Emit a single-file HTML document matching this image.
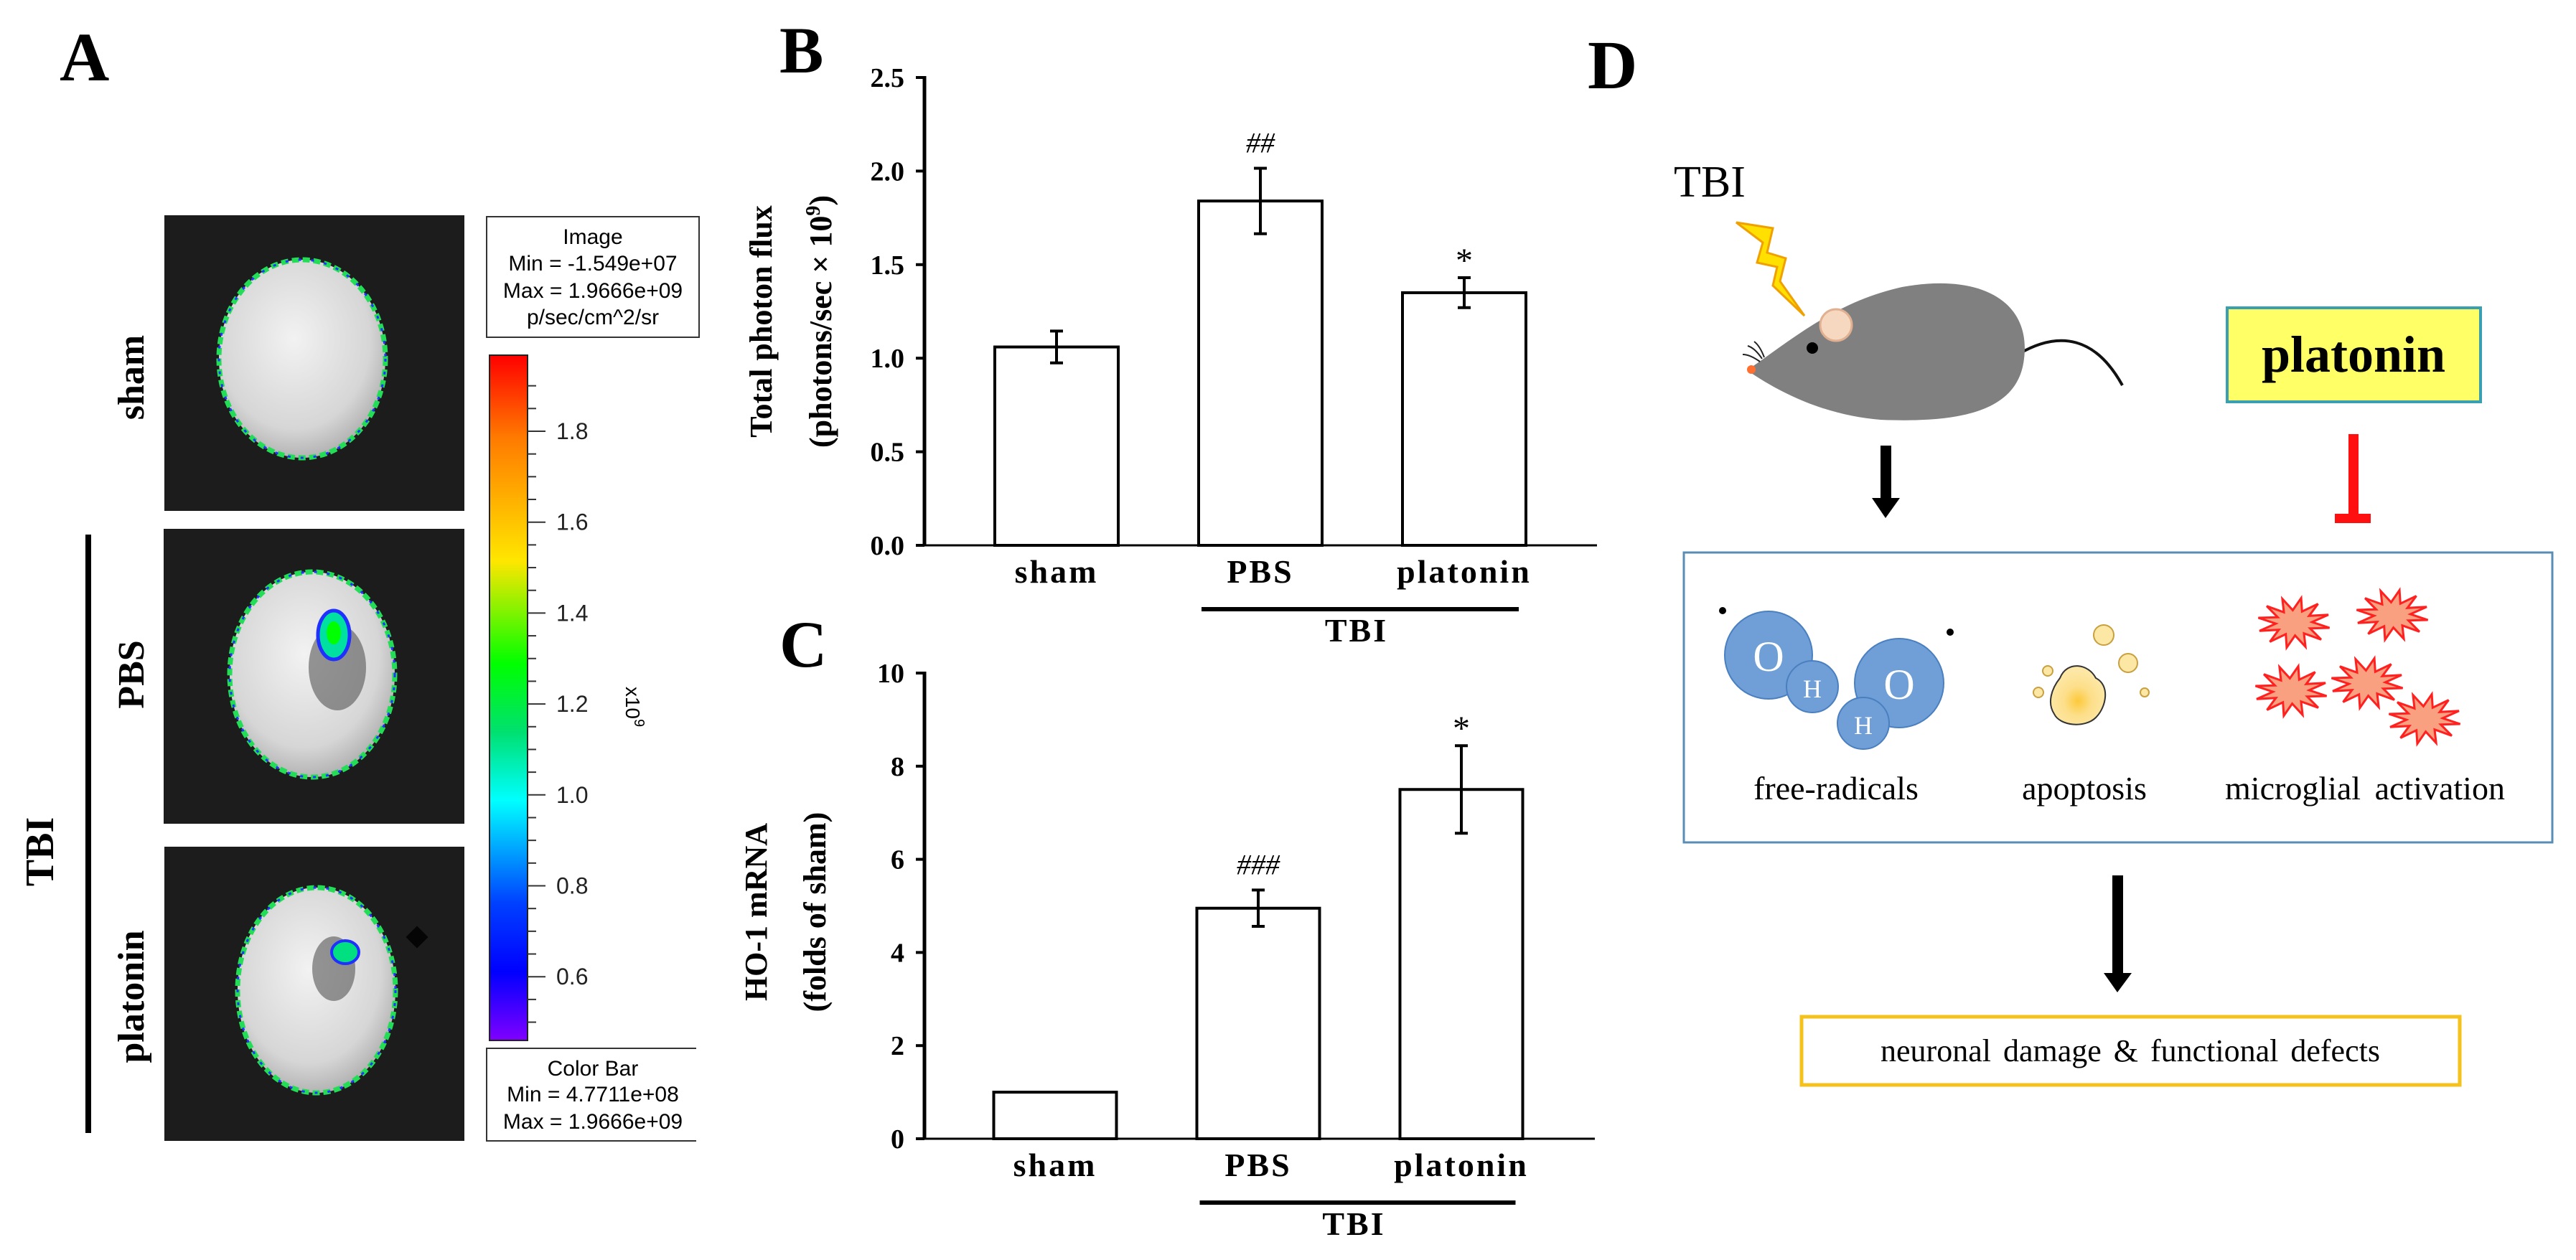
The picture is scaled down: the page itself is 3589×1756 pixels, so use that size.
<!DOCTYPE html>
<html><head><meta charset="utf-8"><style>
html,body{margin:0;padding:0;background:#fff;}
svg{display:block;}
.sf{font-family:"Liberation Serif",serif;}
.ss{font-family:"Liberation Sans",sans-serif;}
</style></head><body>
<svg id="fig" width="3589" height="1756" viewBox="0 0 3589 1756" xmlns="http://www.w3.org/2000/svg">
<defs>
<linearGradient id="cbar" x1="0" y1="0" x2="0" y2="1">
<stop offset="0" stop-color="#ff0000"/><stop offset="0.12" stop-color="#ff7a00"/>
<stop offset="0.3" stop-color="#ffe600"/><stop offset="0.45" stop-color="#00ff00"/>
<stop offset="0.55" stop-color="#00e070"/><stop offset="0.65" stop-color="#00ffff"/>
<stop offset="0.8" stop-color="#0040ff"/><stop offset="0.9" stop-color="#0000ff"/>
<stop offset="1" stop-color="#8000ff"/></linearGradient>
<radialGradient id="brain" cx="0.45" cy="0.4" r="0.65">
<stop offset="0" stop-color="#f2f2f2"/><stop offset="0.7" stop-color="#d6d6d6"/><stop offset="1" stop-color="#a8a8a8"/></radialGradient>
<radialGradient id="apo" cx="0.5" cy="0.6" r="0.5">
<stop offset="0" stop-color="#fcc93a"/><stop offset="0.5" stop-color="#fddf8a"/><stop offset="1" stop-color="#fde7a4"/></radialGradient>
</defs>

<!-- Panel A -->
<g>
<text class="sf" x="83" y="112" font-size="96" font-weight="bold">A</text>
<g>
<rect x="229" y="300" width="418" height="412" fill="#1c1c1c"/>
<ellipse cx="421" cy="500" rx="116" ry="138" fill="url(#brain)" stroke="#22dd55" stroke-width="7" stroke-dasharray="10 5"/>
<ellipse cx="421" cy="500" rx="116" ry="138" fill="none" stroke="#2233ff" stroke-width="3" stroke-dasharray="4 14"/>
</g>
<g>
<rect x="228" y="737" width="419" height="411" fill="#1c1c1c"/>
<ellipse cx="435" cy="940" rx="115" ry="143" fill="url(#brain)" stroke="#22dd55" stroke-width="7" stroke-dasharray="10 5"/>
<ellipse cx="435" cy="940" rx="115" ry="143" fill="none" stroke="#2233ff" stroke-width="3" stroke-dasharray="4 14"/>
<ellipse cx="470" cy="930" rx="40" ry="60" fill="#555" opacity="0.6"/>
<ellipse cx="465" cy="885" rx="22" ry="34" fill="#00e0a0" stroke="#2030ff" stroke-width="5"/>
<ellipse cx="465" cy="882" rx="10" ry="16" fill="#00ff00"/>
</g>
<g>
<rect x="229" y="1180" width="418" height="410" fill="#1c1c1c"/>
<ellipse cx="441" cy="1380" rx="110" ry="143" fill="url(#brain)" stroke="#22dd55" stroke-width="7" stroke-dasharray="10 5"/>
<ellipse cx="441" cy="1380" rx="110" ry="143" fill="none" stroke="#2233ff" stroke-width="3" stroke-dasharray="4 14"/>
<ellipse cx="465" cy="1350" rx="30" ry="45" fill="#555" opacity="0.6"/>
<ellipse cx="481" cy="1327" rx="19" ry="16" fill="#00e080" stroke="#2030ff" stroke-width="4"/>
<rect x="570" y="1295" width="22" height="22" fill="#050505" transform="rotate(45 581 1306)"/>
</g>
<text class="sf" font-size="52" font-weight="bold" text-anchor="middle" transform="translate(200 526) rotate(-90)">sham</text>
<text class="sf" font-size="52" font-weight="bold" text-anchor="middle" transform="translate(200 940) rotate(-90)">PBS</text>
<text class="sf" font-size="52" font-weight="bold" text-anchor="middle" transform="translate(200 1389) rotate(-90)">platonin</text>
<rect x="119" y="745" width="8" height="834" fill="#000"/>
<text class="sf" font-size="56" font-weight="bold" text-anchor="middle" transform="translate(74 1187) rotate(-90)">TBI</text>

<g>
<rect x="678" y="302" width="296" height="168" fill="#fff" stroke="#333" stroke-width="2"/>
<text class="ss" font-size="30" text-anchor="middle" x="826" y="340">Image</text>
<text class="ss" font-size="30" text-anchor="middle" x="826" y="377">Min = -1.549e+07</text>
<text class="ss" font-size="30" text-anchor="middle" x="826" y="415">Max = 1.9666e+09</text>
<text class="ss" font-size="30" text-anchor="middle" x="826" y="452">p/sec/cm^2/sr</text>
</g>
<rect x="682" y="495" width="53" height="955" fill="url(#cbar)" stroke="#222" stroke-width="2"/>
<g id="cbticks"></g>
<text class="ss" font-size="28" text-anchor="middle" transform="translate(872 985) rotate(90)">x10<tspan dy="-12" font-size="20">9</tspan></text>
<g>
<path d="M970 1461 H678 V1590 H970" fill="#fff" stroke="#333" stroke-width="2"/>
<text class="ss" font-size="30" text-anchor="middle" x="826" y="1499">Color Bar</text>
<text class="ss" font-size="30" text-anchor="middle" x="826" y="1535">Min = 4.7711e+08</text>
<text class="ss" font-size="30" text-anchor="middle" x="826" y="1573">Max = 1.9666e+09</text>
</g>
</g>

<!-- Panel B -->
<g>
<text class="sf" x="1086" y="101" font-size="92" font-weight="bold">B</text>
<text class="sf" font-size="44" font-weight="bold" text-anchor="middle" transform="translate(1075 448) rotate(-90)">Total photon flux</text>
<text class="sf" font-size="44" font-weight="bold" text-anchor="middle" transform="translate(1158 448) rotate(-90)">(photons/sec × 10<tspan dy="-16" font-size="28">9</tspan><tspan dy="16">)</tspan></text>
<g id="chartB"></g>
</g>

<!-- Panel C -->
<g>
<text class="sf" x="1086" y="929" font-size="92" font-weight="bold">C</text>
<text class="sf" font-size="44" font-weight="bold" text-anchor="middle" transform="translate(1068 1271) rotate(-90)">HO-1 mRNA</text>
<text class="sf" font-size="44" font-weight="bold" text-anchor="middle" transform="translate(1150 1271) rotate(-90)">(folds of sham)</text>
<g id="chartC"></g>
</g>

<!-- Panel D -->
<g>
<text class="sf" x="2212" y="123" font-size="96" font-weight="bold">D</text>
<text class="sf" x="2332" y="274" font-size="62">TBI</text>
<polygon points="2419,310 2470,318 2462,352 2488,360 2480,392 2514,440 2470,398 2476,372 2448,366 2456,338" fill="#ffe000" stroke="#f0a000" stroke-width="3"/>
<g>
<path d="M2813 493 C2870 460 2920 470 2957 537" fill="none" stroke="#111" stroke-width="4"/>
<path d="M2440 512 C2500 470 2560 420 2650 400 C2760 380 2830 420 2820 500 C2812 570 2740 590 2620 585 C2560 580 2500 560 2440 520 Z" fill="#808080"/>
<circle cx="2558" cy="453" r="22" fill="#f6d8c0" stroke="#e0b090" stroke-width="3"/>
<circle cx="2525" cy="485" r="8" fill="#000"/>
<circle cx="2440" cy="515" r="6" fill="#ff7030"/>
<path d="M2455 500 q-10 -15 -20 -18 M2458 498 q-6 -16 -14 -22 M2452 504 q-14 -10 -24 -10" fill="none" stroke="#222" stroke-width="2"/>
</g>
<g>
<rect x="2620" y="621" width="15" height="75" fill="#000"/>
<polygon points="2608,694 2647,694 2627,722" fill="#000"/>
</g>
<g>
<rect x="3103" y="429" width="353" height="131" fill="#ffff66" stroke="#3a9fb0" stroke-width="4"/>
<text class="sf" x="3279" y="518" font-size="72" font-weight="bold" text-anchor="middle">platonin</text>
</g>
<g>
<rect x="3272" y="605" width="14" height="117" fill="#ff1010"/>
<rect x="3253" y="716" width="50" height="13" fill="#ff1010"/>
</g>
<rect x="2346" y="770" width="1210" height="404" fill="#fff" stroke="#5a8db5" stroke-width="3"/>
<g>
<circle cx="2400" cy="851" r="5" fill="#000"/><circle cx="2717" cy="881" r="5" fill="#000"/>
<circle cx="2464" cy="913" r="61" fill="#6f9fd6" stroke="#4a7fc0" stroke-width="2"/>
<circle cx="2646" cy="952" r="62" fill="#6f9fd6" stroke="#4a7fc0" stroke-width="2"/>
<circle cx="2525" cy="957" r="36" fill="#6f9fd6" stroke="#4a7fc0" stroke-width="2"/>
<circle cx="2596" cy="1008" r="36" fill="#6f9fd6" stroke="#4a7fc0" stroke-width="2"/>
<text class="sf" x="2464" y="935" font-size="60" fill="#fff" text-anchor="middle">O</text>
<text class="sf" x="2646" y="974" font-size="60" fill="#fff" text-anchor="middle">O</text>
<text class="sf" x="2525" y="972" font-size="36" fill="#fff" text-anchor="middle">H</text>
<text class="sf" x="2596" y="1023" font-size="36" fill="#fff" text-anchor="middle">H</text>
</g>
<g>
<path d="M2870 945 C2880 920 2910 925 2920 945 C2940 955 2935 985 2920 1000 C2905 1015 2870 1012 2862 995 C2852 980 2858 960 2870 945 Z" fill="url(#apo)" stroke="#333" stroke-width="2"/>
<circle cx="2931" cy="885" r="14" fill="#fde7a4" stroke="#c9a040" stroke-width="2"/>
<circle cx="2965" cy="924" r="13" fill="#fde7a4" stroke="#c9a040" stroke-width="2"/>
<circle cx="2853" cy="935" r="7" fill="#fde7a4" stroke="#c9a040" stroke-width="2"/>
<circle cx="2840" cy="965" r="7" fill="#fde7a4" stroke="#c9a040" stroke-width="2"/>
<circle cx="2988" cy="965" r="6" fill="#fde7a4" stroke="#c9a040" stroke-width="2"/>
</g>
<g id="stars"></g>
<text class="sf" x="2558" y="1114" font-size="46" text-anchor="middle">free-radicals</text>
<text class="sf" x="2904" y="1114" font-size="46" text-anchor="middle">apoptosis</text>
<text class="sf" x="3295" y="1114" font-size="46" text-anchor="middle" word-spacing="8">microglial activation</text>
<g>
<rect x="2943" y="1220" width="15" height="138" fill="#000"/>
<polygon points="2931,1356 2970,1356 2950,1383" fill="#000"/>
</g>
<rect x="2510" y="1417" width="917" height="95" fill="#fff" stroke="#f5c21b" stroke-width="5"/>
<text class="sf" x="2968" y="1479" font-size="44" text-anchor="middle" word-spacing="6">neuronal damage &amp; functional defects</text>
</g>
</svg>
<script>
// ---- Chart B data ----
const catsB = ["sham", "PBS", "platonin"];
const valsB = [1.06, 1.84, 1.35];
const errsB = [0.085, 0.175, 0.08];
const annB = ["", "##", "*"];
const ticksB = [0.0, 0.5, 1.0, 1.5, 2.0, 2.5];
const tickLabelsB = ["0.0", "0.5", "1.0", "1.5", "2.0", "2.5"];
// ---- Chart C data ----
const catsC = ["sham", "PBS", "platonin"];
const valsC = [1.0, 4.95, 7.5];
const errsC = [0, 0.39, 0.94];
const annC = ["", "###", "*"];
const ticksC = [0, 2, 4, 6, 8, 10];
const tickLabelsC = ["0", "2", "4", "6", "8", "10"];
// ---- Color bar ticks ----
const cbMajor = [0.6, 0.8, 1.0, 1.2, 1.4, 1.6, 1.8];
const cbMajorLabels = ["0.6", "0.8", "1.0", "1.2", "1.4", "1.6", "1.8"];

const NS = "http://www.w3.org/2000/svg";
function mk(parent, tag, attrs, text) {
  const e = document.createElementNS(NS, tag);
  for (const k in attrs) e.setAttribute(k, attrs[k]);
  if (text !== undefined) e.textContent = text;
  parent.appendChild(e);
  return e;
}

function drawChart(gid, prefix, cats, vals, errs, ann, ticks, tickLabels, cfg) {
  const g = document.getElementById(gid);
  const y = v => cfg.y0 - (v - cfg.min) / (cfg.max - cfg.min) * (cfg.y0 - cfg.yTop);
  const x = i => cfg.xStart + i * cfg.step;
  const axis = mk(g, "line", {x1: cfg.ax, y1: y(cfg.max) - 2, x2: cfg.ax, y2: cfg.y0, stroke: "#000", "stroke-width": 5});
  
  
  const base = mk(g, "line", {x1: cfg.ax, y1: cfg.y0, x2: cfg.xEnd, y2: cfg.y0, stroke: "#000", "stroke-width": 3});
  
  
  ticks.forEach((t, i) => {
    const tk = mk(g, "line", {x1: cfg.ax - 12, y1: y(t), x2: cfg.ax, y2: y(t), stroke: "#000", "stroke-width": 4});
    
    
    const lb = mk(g, "text", {x: cfg.ax - 28, y: y(t) + 13, "text-anchor": "end", "font-size": 38, "font-weight": "bold", class: "sf"}, tickLabels[i]);
    
    
  });
  cats.forEach((c, i) => {
    const cx = x(i);
    const bar = mk(g, "rect", {x: cx - cfg.bw / 2, y: y(vals[i]), width: cfg.bw, height: cfg.y0 - y(vals[i]), fill: "#fff", stroke: "#000", "stroke-width": 4});
    
    
    if (errs[i] > 0) {
      const eb = mk(g, "path", {d: `M${cx} ${y(vals[i] + errs[i])} V${y(vals[i] - errs[i])} M${cx - 9} ${y(vals[i] + errs[i])} H${cx + 9} M${cx - 9} ${y(vals[i] - errs[i])} H${cx + 9}`, stroke: "#000", "stroke-width": 4, fill: "none"});
      
      
    }
    if (ann[i]) {
      const isStar = ann[i] === "*";
      const at = mk(g, "text", {x: cx, y: y(vals[i] + errs[i]) - (isStar ? 8 : 22), "text-anchor": "middle", "font-size": isStar ? 48 : 40, class: "sf", "font-style": isStar ? "normal" : "italic"}, ann[i]);
      
      
    }
    const xl = mk(g, "text", {x: cx, y: cfg.y0 + 52, "text-anchor": "middle", "font-size": 46, "font-weight": "bold", "letter-spacing": 3, class: "sf"}, c);
    
    
  });
  const gl = mk(g, "rect", {x: x(1) - cfg.bw / 2 + 4, y: cfg.y0 + 86, width: x(2) - x(1) + cfg.bw - 14, height: 6, fill: "#000"});
  
  
  const gt = mk(g, "text", {x: (x(1) + x(2)) / 2 - 8, y: cfg.y0 + 134, "text-anchor": "middle", "font-size": 46, "font-weight": "bold", "letter-spacing": 3, class: "sf"}, "TBI");
  
  
}

drawChart("chartB", "b", catsB, valsB, errsB, annB, ticksB, tickLabelsB,
  {y0: 760, yTop: 108, min: 0, max: 2.5, ax: 1288, xEnd: 2225, xStart: 1472, step: 284, bw: 172});
drawChart("chartC", "c", catsC, valsC, errsC, annC, ticksC, tickLabelsC,
  {y0: 1587, yTop: 938, min: 0, max: 10, ax: 1288, xEnd: 2222, xStart: 1470, step: 283, bw: 171});

// color bar ticks
(function () {
  const g = document.getElementById("cbticks");
  const yv = v => 601 + (1.8 - v) / 0.2 * 126.7;
  for (let k = 0; k <= 28; k++) {
    const v = 0.5 + k * 0.05;
    const yy = yv(v);
    if (yy < 497 || yy > 1448) continue;
    const major = Math.abs((v * 10) % 2) < 0.01 || Math.abs((v * 10) % 2 - 2) < 0.01;
    const t = mk(g, "line", {x1: 735, y1: yy, x2: major ? 760 : 747, y2: yy, stroke: "#333", "stroke-width": 2});
    
    
  }
  cbMajor.forEach((v, i) => {
    const l = mk(g, "text", {x: 775, y: yv(v) + 11, "font-size": 32, class: "ss", fill: "#222"}, cbMajorLabels[i]);
    
    
  });
})();

// microglia stars
(function () {
  const g = document.getElementById("stars");
  const centers = [[3196, 868], [3333, 857], [3192, 963], [3298, 952], [3378, 1002]];
  centers.forEach(c => {
    let pts = [];
    const n = 12;
    for (let k = 0; k < n * 2; k++) {
      const r = k % 2 ? 22 : 44;
      const a = k * Math.PI / n + 0.2;
      pts.push((c[0] + r * Math.cos(a) * 1.15).toFixed(1) + "," + (c[1] + r * Math.sin(a) * 0.8).toFixed(1));
    }
    const s = mk(g, "polygon", {points: pts.join(" "), fill: "#f8a080", stroke: "#ff2020", "stroke-width": 3});
    
    
  });
})();
</script>
</body></html>
